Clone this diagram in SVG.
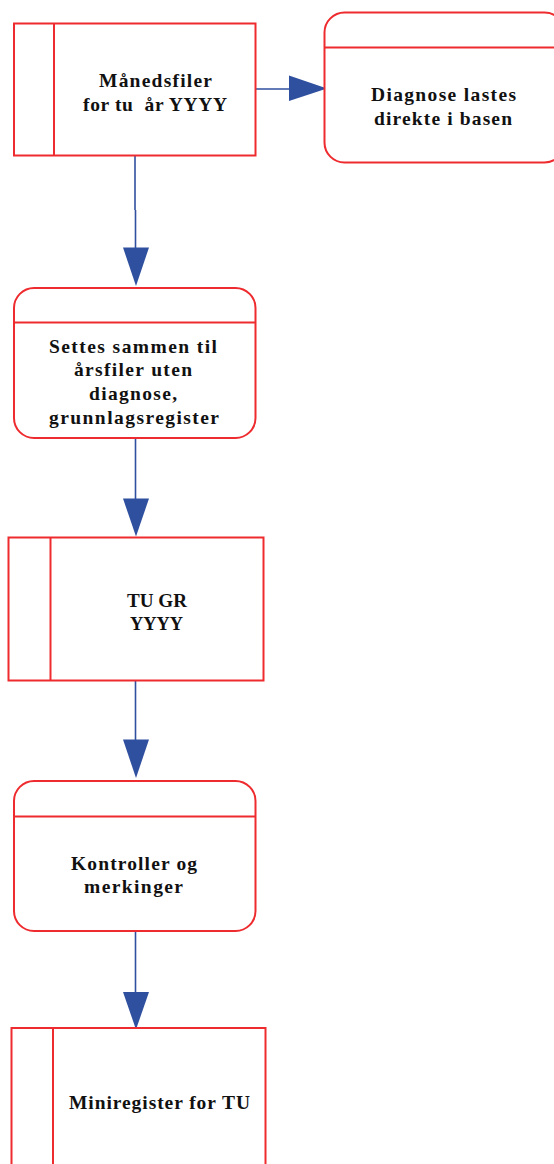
<svg xmlns="http://www.w3.org/2000/svg" width="554" height="1164" viewBox="0 0 554 1164">
<style>
.box{fill:#ffffff;stroke:#ee2b2e;stroke-width:2}
.div{stroke:#ee2b2e;stroke-width:2;fill:none}
.ln{stroke:#2f4f9f;stroke-width:1.6;fill:none}
.hd{fill:#2f4f9f;stroke:none}
.t{font-family:"Liberation Serif","Times New Roman",serif;font-weight:bold;font-size:19.5px;fill:#111111;text-anchor:middle}
</style>
<rect width="554" height="1164" fill="#ffffff"/>
<g id="connectors">
<line class="ln" x1="256" y1="89" x2="291" y2="89"/>
<polygon class="hd" points="289,75.5 327,88.5 289,101"/>
<line class="ln" x1="135" y1="156" x2="135" y2="210"/>
<line class="ln" x1="135.5" y1="210" x2="135.5" y2="249"/>
<polygon class="hd" points="123,247.5 149,247.5 136,286"/>
<line class="ln" x1="135.5" y1="438" x2="135.5" y2="500"/>
<polygon class="hd" points="123,498.5 149,498.5 136,536.5"/>
<line class="ln" x1="135.5" y1="681" x2="135.5" y2="741"/>
<polygon class="hd" points="123,739.5 149,739.5 136,778"/>
<line class="ln" x1="135.5" y1="931" x2="135.5" y2="993"/>
<polygon class="hd" points="123,992 149,992 136,1029.5"/>
</g>
<g id="n1">
<rect class="box" x="14" y="23.5" width="241.5" height="132"/>
<line class="div" x1="54" y1="23.5" x2="54" y2="155.5"/>
<text class="t" x="155.5" y="87" textLength="113" lengthAdjust="spacing">Månedsfiler</text>
<text class="t" x="155" y="110.5" xml:space="preserve" textLength="144" lengthAdjust="spacing">for tu  år YYYY</text>
</g>
<g id="n2">
<rect class="box" x="324.5" y="12.5" width="240" height="150" rx="20" ry="20"/>
<line class="div" x1="324.5" y1="47.5" x2="554" y2="47.5"/>
<text class="t" x="443.5" y="101" textLength="145" lengthAdjust="spacing">Diagnose lastes</text>
<text class="t" x="443" y="125" textLength="138" lengthAdjust="spacing">direkte i basen</text>
</g>
<g id="n3">
<rect class="box" x="14" y="288" width="241.5" height="150" rx="20" ry="20"/>
<line class="div" x1="14" y1="322.5" x2="255.5" y2="322.5"/>
<text class="t" x="133" y="352.5" textLength="168" lengthAdjust="spacing">Settes sammen til</text>
<text class="t" x="133" y="376" textLength="118" lengthAdjust="spacing">årsfiler uten</text>
<text class="t" x="133" y="400" textLength="88" lengthAdjust="spacing">diagnose,</text>
<text class="t" x="134" y="423.5" textLength="170" lengthAdjust="spacing">grunnlagsregister</text>
</g>
<g id="n4">
<rect class="box" x="8.5" y="537.5" width="255" height="143"/>
<line class="div" x1="50.5" y1="537.5" x2="50.5" y2="680.5"/>
<text class="t" x="157" y="607" textLength="60" lengthAdjust="spacingAndGlyphs">TU GR</text>
<text class="t" x="156.5" y="630" textLength="53" lengthAdjust="spacingAndGlyphs">YYYY</text>
</g>
<g id="n5">
<rect class="box" x="14" y="781" width="241.5" height="150" rx="20" ry="20"/>
<line class="div" x1="14" y1="816.5" x2="255.5" y2="816.5"/>
<text class="t" x="134" y="870" textLength="126" lengthAdjust="spacing">Kontroller og</text>
<text class="t" x="133.5" y="893" textLength="99" lengthAdjust="spacing">merkinger</text>
</g>
<g id="n6">
<rect class="box" x="11.5" y="1028" width="254" height="160"/>
<line class="div" x1="53" y1="1028" x2="53" y2="1170"/>
<text class="t" x="159.5" y="1109" textLength="181" lengthAdjust="spacing">Miniregister for TU</text>
</g>
</svg>
